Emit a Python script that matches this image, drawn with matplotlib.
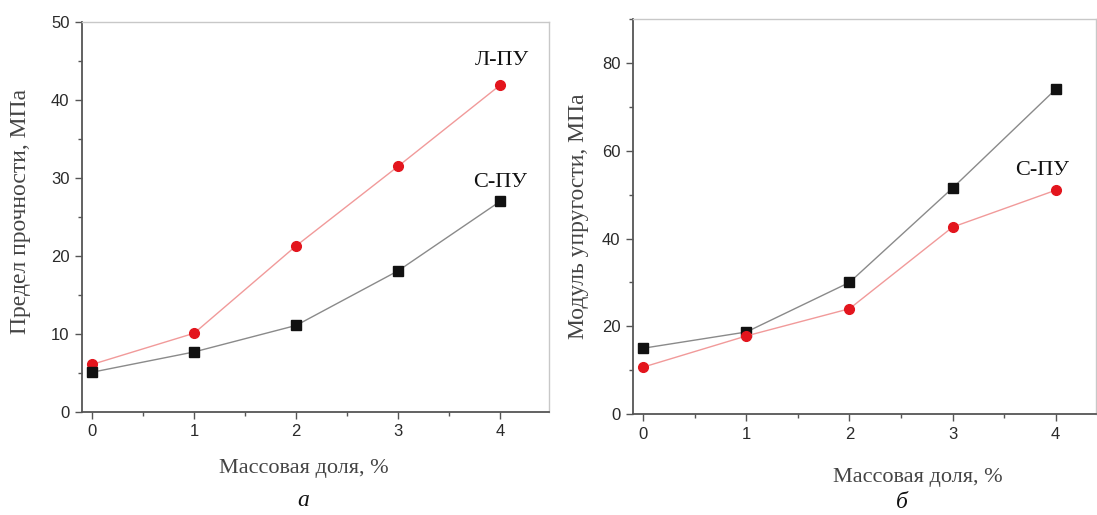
import matplotlib
matplotlib.use("Agg")
import matplotlib.pyplot as plt
from matplotlib.ticker import MultipleLocator

# Data
x_mass = [0, 1, 2, 3, 4]
# panel a: tensile strength, MPa
strength_L = [6.1, 10.1, 21.3, 31.5, 41.9]   # Л-ПУ (red circles)
strength_S = [5.1, 7.7, 11.1, 18.1, 27.0]    # С-ПУ (black squares)
# panel b: elastic modulus, MPa
modulus_black = [15.0, 18.7, 30.0, 51.5, 74.0]
modulus_red = [10.7, 17.8, 24.0, 42.6, 51.0]

xlabel_text = "Массовая доля, %"
ylabel_a = "Предел прочности, МПа"
ylabel_b = "Модуль упругости, МПа"

RED = "#e3151d"
RED_LINE = "#f19a9a"
BLK = "#111111"
BLK_LINE = "#8a8a8a"
SERIF = "Liberation Serif"
SANS = "Liberation Sans"

fig = plt.figure(figsize=(10.97, 5.15), dpi=100)

def style(ax, ymajor, yminor):
    for s in ["left", "bottom"]:
        ax.spines[s].set_color("#555555")
        ax.spines[s].set_linewidth(1.3)
    for s in ["top", "right"]:
        ax.spines[s].set_color("#c8c8c8")
        ax.spines[s].set_linewidth(1.0)
    ax.xaxis.set_major_locator(MultipleLocator(1))
    ax.xaxis.set_minor_locator(MultipleLocator(0.5))
    ax.yaxis.set_major_locator(MultipleLocator(ymajor))
    ax.yaxis.set_minor_locator(MultipleLocator(yminor))
    ax.tick_params(which="both", direction="out", colors="#555555", width=1.0,
                   top=False, right=False)
    ax.tick_params(which="major", length=5, labelsize=12, labelcolor="#2a2a2a", pad=4)
    ax.tick_params(which="minor", length=3)
    for lab in ax.get_xticklabels() + ax.get_yticklabels():
        lab.set_fontfamily(SANS)

# Panel a
ax1 = fig.add_axes([0.0747, 0.200, 0.4258, 0.7573])
ax1.plot(x_mass, strength_L, color=RED_LINE, lw=1.0, marker="o", ms=7,
         mfc=RED, mec=RED, zorder=3)
ax1.plot(x_mass, strength_S, color=BLK_LINE, lw=1.0, marker="s", ms=6.5,
         mfc=BLK, mec=BLK, zorder=3)
ax1.set_xlim(-0.1, 4.48)
ax1.set_ylim(0, 50)
style(ax1, 10, 5)
ax1.text(4.02, 45.0, "Л-ПУ", family=SERIF, fontsize=16, ha="center", va="center", color="#111111")
ax1.text(4.0, 29.4, "С-ПУ", family=SERIF, fontsize=16, ha="center", va="center", color="#111111")
ax1.set_ylabel(ylabel_a, family=SERIF, fontsize=17, color="#444444")
ax1.yaxis.set_label_coords(-0.11, 0.515)
ax1.text(0.475, -0.145, xlabel_text, transform=ax1.transAxes, family=SERIF,
         fontsize=16, color="#444444", ha="center", va="center")
ax1.text(0.473, -0.226, "а", transform=ax1.transAxes, family=SERIF, style="italic",
         fontsize=17, ha="center", va="center", color="#111111")

# Panel b
ax2 = fig.add_axes([0.577, 0.196, 0.422, 0.767])
ax2.plot(x_mass, modulus_black, color=BLK_LINE, lw=1.0, marker="s", ms=6.5,
         mfc=BLK, mec=BLK, zorder=3)
ax2.plot(x_mass, modulus_red, color=RED_LINE, lw=1.0, marker="o", ms=7,
         mfc=RED, mec=RED, zorder=3)
ax2.set_xlim(-0.1, 4.39)
ax2.set_ylim(0, 90)
style(ax2, 20, 10)
ax2.text(3.87, 55.5, "С-ПУ", family=SERIF, fontsize=16, ha="center", va="center", color="#111111")
ax2.set_ylabel(ylabel_b, family=SERIF, fontsize=17, color="#444444")
ax2.yaxis.set_label_coords(-0.095, 0.5)
ax2.text(0.615, -0.16, xlabel_text, transform=ax2.transAxes, family=SERIF,
         fontsize=16, color="#444444", ha="center", va="center")
ax2.text(0.58, -0.225, "б", transform=ax2.transAxes, family=SERIF, style="italic",
         fontsize=17, ha="center", va="center", color="#111111")

fig.savefig("out.png", dpi=100)
